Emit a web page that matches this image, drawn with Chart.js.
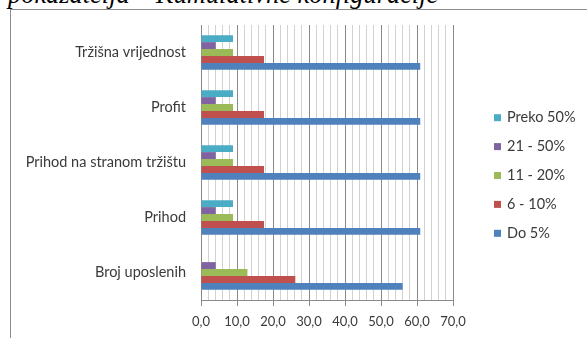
<!DOCTYPE html>
<html>
<head>
<meta charset="utf-8">
<script src="https://cdn.jsdelivr.net/npm/chart.js@4/dist/chart.umd.min.js"></script>
<style>
  html, body { margin: 0; padding: 0; background: #fff; overflow: hidden; }
  body { width: 587px; height: 338px; position: relative; }
  .caption {
    position: absolute; left: 8px; top: -19px; margin: 0;
    font-family: "Liberation Serif", serif; font-style: italic;
    font-size: 26.4px; line-height: 26px; color: #000; white-space: nowrap;
  }
  .frame {
    position: absolute; left: 10px; top: 9px; width: 600px; height: 340px;
    border-left: 1px solid #8c8c8c; border-top: 1px solid #8c8c8c;
  }
  #wrap { position: absolute; left: 0; top: 0; width: 587px; height: 338px; }
</style>
</head>
<body>
<p class="caption">pokazatelja – Kumulativne konfiguracije</p>
<div class="frame"></div>
<div id="wrap"><canvas id="c" width="587" height="338"></canvas></div>
<script>
// Categories, top to bottom
const categories = ['Tržišna vrijednost', 'Profit', 'Prihod na stranom tržištu', 'Prihod', 'Broj uposlenih'];
// Series names (legend order)
const seriesLabels = ['Preko 50%', '21 - 50%', '11 - 20%', '6 - 10%', 'Do 5%'];
// Share of answers per category (%)
const preko50 = [8.9, 8.9, 8.9, 8.9, 0];
const od21do50 = [4.1, 4.1, 4.1, 4.1, 4.1];
const od11do20 = [8.9, 8.9, 8.9, 8.9, 12.9];
const od6do10 = [17.5, 17.5, 17.5, 17.5, 26.2];
const do5 = [60.9, 60.9, 60.9, 60.9, 56.0];
// Value axis
const axisMax = 70;
const minorStep = 2;
const majorStep = 10;

const seriesValues = [preko50, od21do50, od11do20, od6do10, do5];
const seriesColors = ['#4BACC6', '#8064A2', '#9BBB59', '#C0504D', '#4F81BD'];

const FONT = 'Lato, "Open Sans", sans-serif';
const TEXT = '#3a3a3a';
const MAJOR = '#8a8a8a';
const MINOR = '#d2d2d2';

// Legend drawn at the right side of the chart
const sideLegend = {
  id: 'sideLegend',
  afterDraw(chart) {
    const ctx = chart.ctx;
    ctx.save();
    ctx.font = '14.5px ' + FONT;
    ctx.textBaseline = 'middle';
    ctx.textAlign = 'left';
    chart.data.datasets.forEach((ds, i) => {
      const cy = 117.7 + i * 28.9;
      ctx.fillStyle = ds.backgroundColor;
      ctx.fillRect(494, cy - 3.5, 7, 7);
      ctx.fillStyle = TEXT;
      ctx.fillText(ds.label, 507, cy);
    });
    ctx.restore();
  }
};

const isMajor = v => Math.abs(v % majorStep) < 1e-6;

new Chart(document.getElementById('c'), {
  type: 'bar',
  data: {
    labels: categories,
    datasets: seriesLabels.map((label, i) => ({
      label,
      data: seriesValues[i],
      backgroundColor: seriesColors[i],
      borderWidth: 0,
      categoryPercentage: 0.63,
      barPercentage: 1.0
    }))
  },
  options: {
    indexAxis: 'y',
    responsive: false,
    animation: false,
    devicePixelRatio: 1,
    layout: { padding: { left: 0, right: 134, top: 25, bottom: 0 } },
    plugins: {
      legend: { display: false },
      tooltip: { enabled: false },
      title: { display: false }
    },
    scales: {
      x: {
        min: 0,
        max: axisMax,
        ticks: {
          stepSize: minorStep,
          autoSkip: false,
          maxRotation: 0,
          padding: 8,
          color: TEXT,
          font: { family: FONT, size: 13 },
          callback: v => isMajor(v) ? v.toFixed(1).replace('.', ',') : ''
        },
        grid: {
          drawOnChartArea: true,
          tickLength: 6,
          color: c => isMajor(c.tick.value) ? MAJOR : MINOR,
          tickColor: c => isMajor(c.tick.value) ? MAJOR : 'rgba(0,0,0,0)',
          lineWidth: 1
        },
        border: { display: true, color: MAJOR },
        afterFit(scale) { scale.height = 38; }
      },
      y: {
        ticks: {
          padding: 15,
          color: TEXT,
          font: { family: FONT, size: 14.5 }
        },
        grid: { display: false, drawTicks: false },
        border: { display: true, color: MAJOR },
        afterFit(scale) { scale.width = 201; }
      }
    }
  },
  plugins: [sideLegend]
});
</script>
</body>
</html>
